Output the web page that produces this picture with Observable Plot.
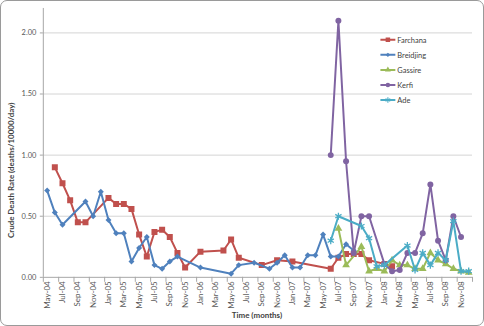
<!DOCTYPE html>
<html>
<head>
<meta charset="utf-8">
<script src="https://cdn.jsdelivr.net/npm/d3@7"></script>
<script src="https://cdn.jsdelivr.net/npm/@observablehq/plot@0.6"></script>
<style>
  html, body { margin: 0; padding: 0; background: #fff; }
  #chart {
    position: relative; width: 484px; height: 326px; box-sizing: border-box;
    border: 1px solid #9a9a9a; border-radius: 7px; overflow: hidden; background: #fff;
  }
  #chart svg { position: absolute; left: -1px; top: -1px; }
</style>
</head>
<body>
<div id="chart"></div>
<script>
// Monthly time axis, May 2004 – Dec 2008 (index 0 = May-04)
const months = [
  "May-04","Jun-04","Jul-04","Aug-04","Sep-04","Oct-04","Nov-04","Dec-04",
  "Jan-05","Feb-05","Mar-05","Apr-05","May-05","Jun-05","Jul-05","Aug-05","Sep-05","Oct-05","Nov-05","Dec-05",
  "Jan-06","Feb-06","Mar-06","Apr-06","May-06","Jun-06","Jul-06","Aug-06","Sep-06","Oct-06","Nov-06","Dec-06",
  "Jan-07","Feb-07","Mar-07","Apr-07","May-07","Jun-07","Jul-07","Aug-07","Sep-07","Oct-07","Nov-07","Dec-07",
  "Jan-08","Feb-08","Mar-08","Apr-08","May-08","Jun-08","Jul-08","Aug-08","Sep-08","Oct-08","Nov-08","Dec-08"
];

// Crude death rate (deaths/10000/day) by camp
const farchanaMonths = ["Jun-04","Jul-04","Aug-04","Sep-04","Oct-04","Jan-05","Feb-05","Mar-05","Apr-05","May-05",
  "Jun-05","Jul-05","Aug-05","Sep-05","Oct-05","Nov-05","Jan-06","Apr-06","May-06","Jun-06","Sep-06","Nov-06",
  "Jan-07","Jun-07","Jul-07","Aug-07","Sep-07","Oct-07","Nov-07","Jan-08","Feb-08"];
const farchanaRates = [0.90,0.77,0.63,0.45,0.45,0.65,0.60,0.60,0.56,0.35,
  0.17,0.37,0.39,0.33,0.20,0.08,0.21,0.22,0.31,0.16,0.10,0.14,
  0.13,0.07,0.16,0.19,0.19,0.19,0.14,0.11,0.09];

const breidjingMonths = ["May-04","Jun-04","Jul-04","Oct-04","Nov-04","Dec-04","Jan-05","Feb-05","Mar-05","Apr-05",
  "May-05","Jun-05","Jul-05","Aug-05","Sep-05","Oct-05","Jan-06","May-06","Jun-06","Aug-06","Oct-06","Nov-06",
  "Dec-06","Jan-07","Feb-07","Mar-07","Apr-07","May-07","Jun-07","Jul-07","Aug-07","Sep-07"];
const breidjingRates = [0.71,0.53,0.43,0.62,0.50,0.70,0.47,0.36,0.36,0.13,
  0.24,0.33,0.10,0.07,0.13,0.17,0.08,0.03,0.10,0.12,0.07,0.12,
  0.18,0.08,0.08,0.18,0.18,0.35,0.17,0.17,0.27,0.22];

const gassireMonths = ["Jul-07","Aug-07","Oct-07","Nov-07","Dec-07","Jan-08","Feb-08","Mar-08","Apr-08","May-08",
  "Jun-08","Jul-08","Aug-08","Sep-08","Oct-08","Nov-08","Dec-08"];
const gassireRates = [0.40,0.10,0.25,0.05,0.07,0.05,0.14,0.10,0.10,0.07,
  0.07,0.20,0.14,0.11,0.07,0.05,0.04];

const kerfiMonths = ["Jun-07","Jul-07","Aug-07","Sep-07","Oct-07","Nov-07","Jan-08","Feb-08","Mar-08","Apr-08",
  "May-08","Jun-08","Jul-08","Aug-08","Sep-08","Oct-08","Nov-08"];
const kerfiRates = [1.00,2.10,0.95,0.20,0.50,0.50,0.11,0.05,0.06,0.20,
  0.20,0.36,0.76,0.30,0.14,0.50,0.33];

const adeMonths = ["Jun-07","Jul-07","Oct-07","Nov-07","Dec-07","Jan-08","Apr-08","May-08","Jun-08","Jul-08",
  "Aug-08","Sep-08","Oct-08","Nov-08","Dec-08"];
const adeRates = [0.30,0.50,0.42,0.32,0.09,0.10,0.26,0.06,0.20,0.10,
  0.20,0.14,0.46,0.05,0.05];

const yTicks = [0, 0.5, 1, 1.5, 2];

// Series styling (Excel-like palette and markers)
const series = [
  {name: "Farchana",  color: "#C0504D", symbol: "square",   r: 3.4, months: farchanaMonths,  rates: farchanaRates},
  {name: "Breidjing", color: "#4F81BD", symbol: "diamond2", r: 2.7, months: breidjingMonths, rates: breidjingRates},
  {name: "Gassire",   color: "#9BBB59", symbol: "triangle", r: 2.9, months: gassireMonths,   rates: gassireRates},
  {name: "Kerfi",     color: "#8064A2", symbol: "circle",   r: 3.0, months: kerfiMonths,     rates: kerfiRates},
  {name: "Ade",       color: "#4BACC6", symbol: "asterisk", r: 3.4, months: adeMonths,       rates: adeRates}
];

const rowsOf = s => s.months.map((m, i) => ({series: s.name, t: months.indexOf(m), rate: s.rates[i]}));

const seriesMarks = series.flatMap(s => {
  const rows = rowsOf(s);
  const strokeSymbol = s.symbol === "asterisk";
  return [
    Plot.line(rows, {x: "t", y: "rate", stroke: s.color, strokeWidth: 2}),
    Plot.dot(rows, {
      x: "t", y: "rate", symbol: () => s.symbol, r: s.r,
      fill: strokeSymbol ? "none" : s.color,
      stroke: strokeSymbol ? s.color : "none",
      strokeWidth: strokeSymbol ? 1.3 : 0
    })
  ];
});

const labelIdx = d3.range(0, 55, 2);           // every second month
const tickBounds = d3.range(-0.5, 56, 2);       // tick marks at slot boundaries

const chart = Plot.plot({
  width: 484,
  height: 326,
  marginLeft: 43,
  marginRight: 10,
  marginTop: 8,
  marginBottom: 48,
  style: {fontFamily: "Lato, 'Liberation Sans', sans-serif", fontSize: "8px", color: "#595959", background: "transparent"},
  x: {type: "linear", domain: [-0.5, 55.5]},
  y: {domain: [0, 2.2]},
  marks: [
    Plot.gridY(yTicks.filter(d => d > 0), {stroke: "#d4d4d4", strokeOpacity: 1}),
    Plot.ruleX([-0.5], {stroke: "#a6a6a6"}),
    Plot.ruleY([0], {stroke: "#a6a6a6"}),
    Plot.axisY(yTicks, {tickFormat: d3.format(".2f"), tickSize: 3, tickPadding: 4, stroke: "#a6a6a6", label: null, fontSize: 7.5}),
    Plot.axisX(tickBounds, {tickSize: 5, tickFormat: () => "", stroke: "#a6a6a6", label: null}),
    Plot.axisX(labelIdx, {tickSize: 0, tickPadding: 4, tickRotate: -90, tickFormat: i => months[i], label: null, fontSize: 8}),
    ...seriesMarks
  ]
});

const svg = d3.select(chart);

// Axis titles
svg.append("text")
  .attr("transform", "translate(14,171) rotate(-90)")
  .attr("text-anchor", "middle")
  .attr("font-size", 8)
  .attr("font-weight", "bold")
  .attr("fill", "#404040")
  .text("Crude Death Rate (deaths/10000/day)");

svg.append("text")
  .attr("x", 258).attr("y", 319.5)
  .attr("text-anchor", "middle")
  .attr("font-size", 8)
  .attr("font-weight", "bold")
  .attr("fill", "#404040")
  .text("Time (months)");

// Legend
const symbolTypes = {
  square: d3.symbolSquare, diamond2: d3.symbolDiamond2, triangle: d3.symbolTriangle,
  circle: d3.symbolCircle, asterisk: d3.symbolAsterisk
};
const legend = svg.append("g").attr("transform", "translate(382,40)");
series.forEach((s, i) => {
  const g = legend.append("g").attr("transform", `translate(0,${i * 15.1})`);
  g.append("line").attr("x1", 0).attr("x2", 15).attr("stroke", s.color).attr("stroke-width", 2);
  const stroked = s.symbol === "asterisk";
  g.append("path")
    .attr("transform", "translate(7.5,0)")
    .attr("d", d3.symbol(symbolTypes[s.symbol], Math.PI * (s.r * 0.75) ** 2)())
    .attr("fill", stroked ? "none" : s.color)
    .attr("stroke", stroked ? s.color : "none")
    .attr("stroke-width", 1.1);
  g.append("text")
    .attr("x", 17).attr("y", 2.8)
    .attr("text-anchor", "start")
    .attr("font-size", 7.5)
    .attr("fill", "#404040")
    .text(s.name);
});

document.getElementById("chart").appendChild(chart);
</script>
</body>
</html>
